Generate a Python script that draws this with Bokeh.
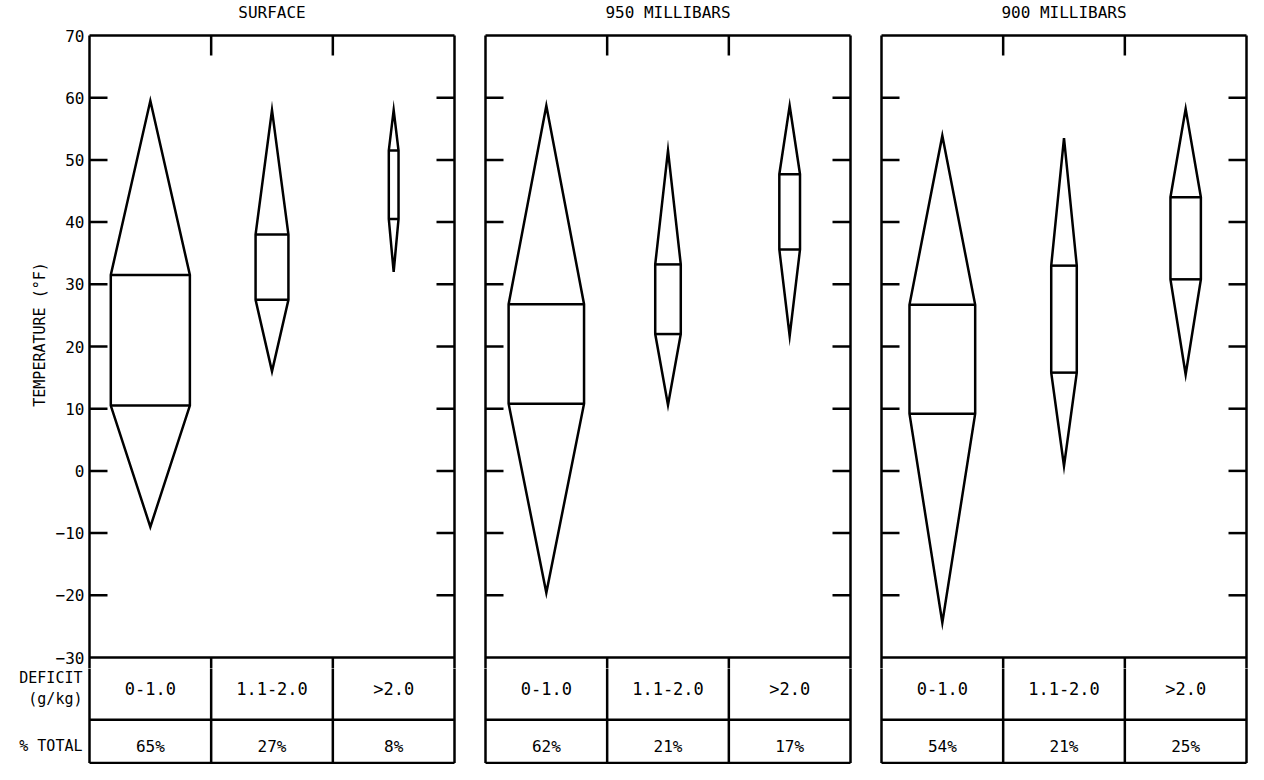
import numpy as np
from bokeh.plotting import figure
from bokeh.models import FixedTicker, Range1d
from bokeh.layouts import row, column
from bokeh.embed import file_html
from bokeh.resources import INLINE
from bokeh.core.properties import value

# ---------------- data ----------------
panel_titles = ["SURFACE", "950 MILLIBARS", "900 MILLIBARS"]
deficit_classes = ["0-1.0", "1.1-2.0", ">2.0"]
row_labels = ["DEFICIT\n(g/kg)", "% TOTAL"]

pct_surface = [65, 27, 8]
pct_950 = [62, 21, 17]
pct_900 = [54, 21, 25]

max_surface = [59.5, 58.0, 58.0]
q3_surface = [31.5, 38.0, 51.5]
q1_surface = [10.5, 27.5, 40.5]
min_surface = [-9.0, 16.0, 32.0]

max_950 = [58.7, 51.5, 58.7]
q3_950 = [26.8, 33.2, 47.7]
q1_950 = [10.8, 22.0, 35.6]
min_950 = [-19.6, 10.6, 21.7]

max_900 = [53.9, 53.5, 58.2]
q3_900 = [26.7, 33.0, 44.0]
q1_900 = [9.2, 15.8, 30.8]
min_900 = [-24.4, 0.8, 15.5]

y_tick_labels = [-30, -20, -10, 0, 10, 20, 30, 40, 50, 60, 70]
inner_ticks = [-20, -10, 0, 10, 20, 30, 40, 50, 60]
column_bounds = [1, 2]

panels = [
    (panel_titles[0], pct_surface, max_surface, q3_surface, q1_surface, min_surface),
    (panel_titles[1], pct_950, max_950, q3_950, q1_950, min_950),
    (panel_titles[2], pct_900, max_900, q3_900, q1_900, min_900),
]

# ---------------- style / layout ----------------
FONT_NAME = "DejaVu Sans Mono"
FONT = value(FONT_NAME)
LW = 2.5

PANEL_W = 365                 # px for 3 columns
PX_PER_X = PANEL_W / 3.0
PADX = 2.0 / PX_PER_X         # small pad so edge lines are not clipped
FRAME_W = PANEL_W + 4

PX_PER_Y = 6.22               # px per degree
Y_TOP = 70
Y_BOT = -30
T_MID = -40
TOP_PAD_PX = 35               # room above the panel for its title
SPLIT_PX = 11                 # upper canvas continues below -30 by this much
CANVAS_H = 764
UP_H = TOP_PAD_PX + int(round((Y_TOP - Y_BOT) * PX_PER_Y)) + SPLIT_PX
LOW_H = CANVAS_H - UP_H

UP_TOP = Y_TOP + TOP_PAD_PX / PX_PER_Y
SPLIT = Y_BOT - SPLIT_PX / PX_PER_Y
LOW_BOT = SPLIT - LOW_H / PX_PER_Y
T_BOT = LOW_BOT + 1.5 / PX_PER_Y
ROW1_Y = -35.0
ROW2_Y = -44.3
TITLE_Y = Y_TOP + 23 / PX_PER_Y

tick_len_x = 18 / PX_PER_X
tick_len_y = 20 / PX_PER_Y

borders = [(87, 13), (14, 13), (14, 0)]


def skeleton(p):
    """panel frame, table grid and column dividers (clipped by each canvas)"""
    cb = np.array(column_bounds, dtype=float)
    # vertical frame edges
    p.segment(x0=[0, 3], x1=[0, 3], y0=[T_BOT, T_BOT], y1=[Y_TOP, Y_TOP],
              line_color="black", line_width=LW)
    # horizontal lines: top, table top, table mid, table bottom
    hy = [Y_TOP, Y_BOT, T_MID, T_BOT]
    p.segment(x0=[0] * 4, x1=[3] * 4, y0=hy, y1=hy, line_color="black", line_width=LW)
    # column dividers in the table
    p.segment(x0=cb, x1=cb, y0=np.full_like(cb, Y_BOT), y1=np.full_like(cb, T_BOT),
              line_color="black", line_width=LW)


top_figs, table_figs = [], []
for i, (title, pct, ymax, q3, q1, ymin) in enumerate(panels):
    bl, br = borders[i]
    centers = np.arange(len(deficit_classes)) + 0.5
    half = np.array(pct) / 100.0 / 2.0

    # ---------- upper plot ----------
    p = figure(
        frame_width=FRAME_W, frame_height=UP_H,
        x_range=Range1d(-PADX, 3 + PADX), y_range=Range1d(SPLIT, UP_TOP),
        x_axis_location=None,
        y_axis_location="left" if i == 0 else None,
        toolbar_location=None, output_backend="svg",
        min_border_left=bl, min_border_right=br,
        min_border_top=0, min_border_bottom=0,
        background_fill_color="white", border_fill_color="white",
    )
    p.outline_line_color = None
    p.xgrid.grid_line_color = None
    p.ygrid.grid_line_color = None

    if i == 0:
        ax = p.yaxis[0]
        ax.ticker = FixedTicker(ticks=y_tick_labels)
        ax.major_tick_in = 0
        ax.major_tick_out = 0
        ax.minor_tick_in = 0
        ax.minor_tick_out = 0
        ax.axis_line_color = None
        ax.major_label_standoff = 3
        ax.major_label_text_font = FONT_NAME
        ax.major_label_text_font_size = "16px"
        ax.major_label_text_color = "black"
        ax.axis_label = "TEMPERATURE (°F)"
        ax.axis_label_standoff = 4
        ax.axis_label_text_font = FONT_NAME
        ax.axis_label_text_font_size = "15px"
        ax.axis_label_text_font_style = "normal"
        ax.axis_label_text_color = "black"

    skeleton(p)

    # panel title
    p.text(x=[1.5], y=[TITLE_Y], text=[title], text_align="center",
           text_baseline="middle", text_font=FONT, text_font_size="16px",
           text_color="black")

    # diamonds
    xs, ys = [], []
    for c, h, a, b, d, e in zip(centers, half, ymax, q3, q1, ymin):
        xs.append([c, c + h, c + h, c, c - h, c - h])
        ys.append([a, b, d, e, d, b])
    p.patches(xs, ys, fill_color=None, line_color="black", line_width=LW,
              line_join="miter")
    p.segment(x0=centers - half, x1=centers + half, y0=q3, y1=q3,
              line_color="black", line_width=LW)
    p.segment(x0=centers - half, x1=centers + half, y0=q1, y1=q1,
              line_color="black", line_width=LW)

    # inward ticks left / right / top
    it = np.array(inner_ticks, dtype=float)
    p.segment(x0=np.zeros_like(it), x1=np.zeros_like(it) + tick_len_x, y0=it, y1=it,
              line_color="black", line_width=LW)
    p.segment(x0=np.full_like(it, 3.0) - tick_len_x, x1=np.full_like(it, 3.0), y0=it, y1=it,
              line_color="black", line_width=LW)
    cb = np.array(column_bounds, dtype=float)
    p.segment(x0=cb, x1=cb, y0=np.full_like(cb, Y_TOP), y1=np.full_like(cb, Y_TOP) - tick_len_y,
              line_color="black", line_width=LW)
    top_figs.append(p)

    # ---------- table below ----------
    t = figure(
        frame_width=FRAME_W, frame_height=LOW_H,
        x_range=Range1d(-PADX, 3 + PADX), y_range=Range1d(LOW_BOT, SPLIT),
        x_axis_location=None,
        y_axis_location="left" if i == 0 else None,
        toolbar_location=None, output_backend="svg",
        min_border_left=bl, min_border_right=br,
        min_border_top=0, min_border_bottom=0,
        background_fill_color="white", border_fill_color="white",
    )
    t.outline_line_color = None
    t.xgrid.grid_line_color = None
    t.ygrid.grid_line_color = None
    if i == 0:
        tax = t.yaxis[0]
        tax.ticker = FixedTicker(ticks=[ROW1_Y, ROW2_Y])
        tax.major_label_overrides = {ROW1_Y: row_labels[0], ROW2_Y: row_labels[1]}
        tax.major_tick_in = 0
        tax.major_tick_out = 0
        tax.minor_tick_in = 0
        tax.minor_tick_out = 0
        tax.axis_line_color = None
        tax.major_label_standoff = 5
        tax.major_label_text_font = FONT_NAME
        tax.major_label_text_font_size = "15px"
        tax.major_label_text_color = "black"

    skeleton(t)
    t.text(x=centers, y=[ROW1_Y] * 3, text=deficit_classes,
           text_align="center", text_baseline="middle", text_font=FONT,
           text_font_size="17px", text_color="black")
    t.text(x=centers, y=[ROW2_Y] * 3, text=[f"{v}%" for v in pct],
           text_align="center", text_baseline="middle", text_font=FONT,
           text_font_size="16px", text_color="black")
    table_figs.append(t)

layout = column(row(*top_figs, spacing=0), row(*table_figs, spacing=0), spacing=0)
open("out.html", "w").write(file_html(layout, INLINE))
